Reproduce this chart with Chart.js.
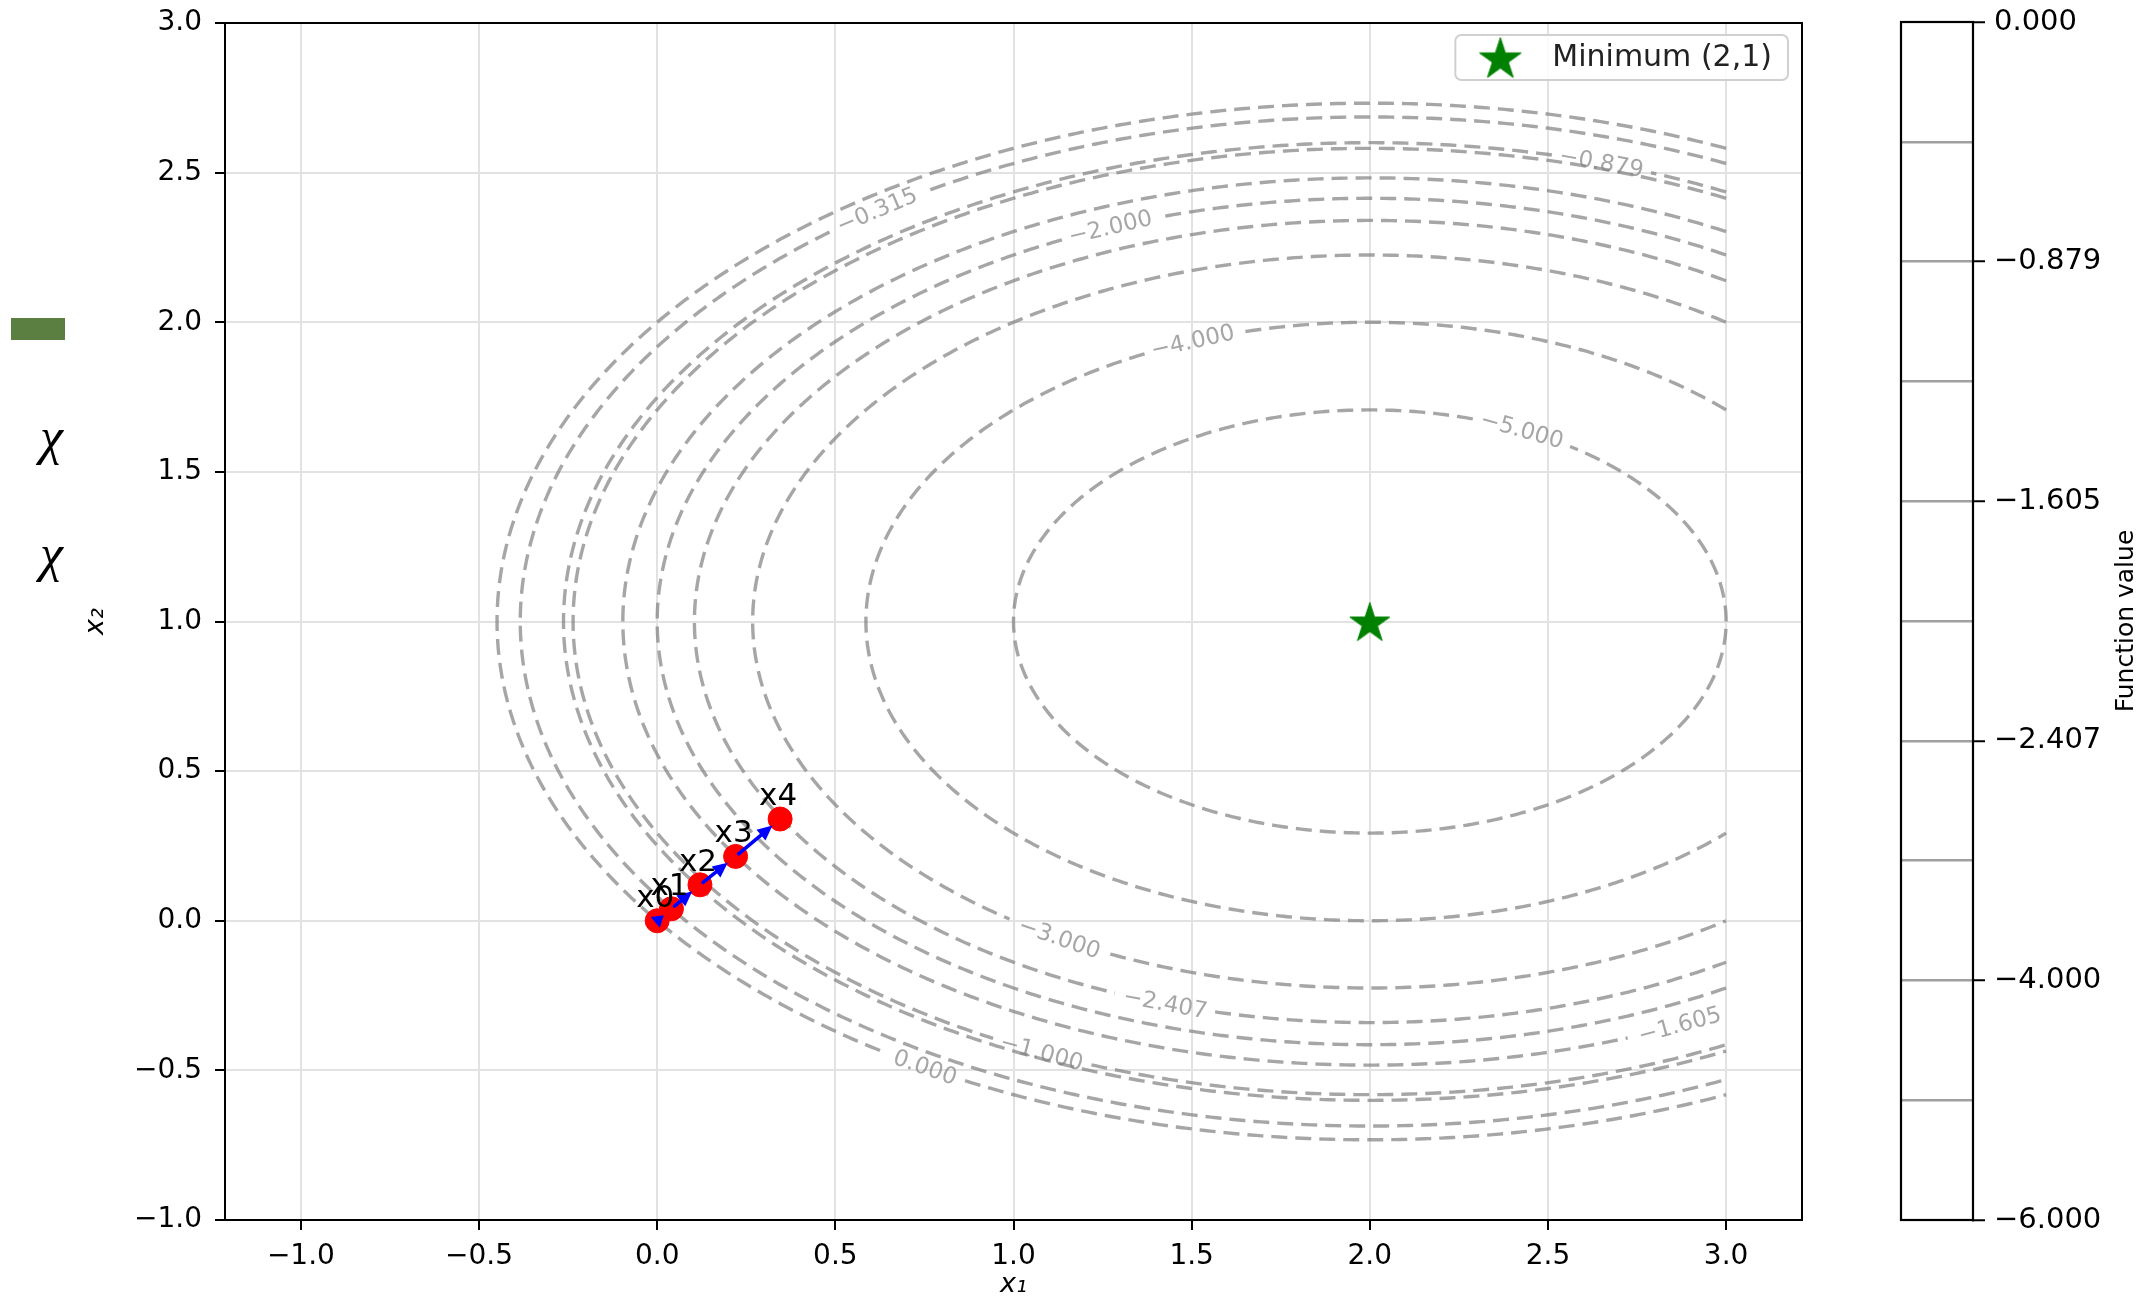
<!DOCTYPE html>
<html><head><meta charset="utf-8">
<script src="https://cdn.jsdelivr.net/npm/chart.js@4.4.1/dist/chart.umd.min.js"></script>
<style>
html,body{margin:0;padding:0;background:#fff;width:2151px;height:1303px;overflow:hidden;}
#main{position:absolute;left:0;top:0;}
#cbar{position:absolute;left:1880px;top:0;}
.art{position:absolute;}
.chi{font-family:"Liberation Serif","DejaVu Serif",serif;font-style:italic;font-size:52px;line-height:52px;color:#000;}
</style></head><body>
<canvas id="main" width="1880" height="1303"></canvas>
<canvas id="cbar" width="271" height="1303"></canvas>
<div class="art" style="left:11px;top:318px;width:54px;height:22px;background:#5b7f41"></div>
<div class="art chi" style="left:40px;top:411px;">χ</div>
<div class="art chi" style="left:40px;top:528px;">χ</div>
<script>
// ---------- data ----------
const xTickValues = [-1.0, -0.5, 0.0, 0.5, 1.0, 1.5, 2.0, 2.5, 3.0];
const yTickValues = [-1.0, -0.5, 0.0, 0.5, 1.0, 1.5, 2.0, 2.5, 3.0];
const contourLevels = [-5.0, -4.0, -3.0, -2.407, -2.0, -1.605, -1.0, -0.879, -0.315, 0.0];
const colorbarLevels = [-6.0, -5.0, -4.0, -3.0, -2.407, -2.0, -1.605, -1.0, -0.879, -0.315, 0.0];
const pathX = [0.0, 0.04, 0.12, 0.22, 0.345];
const pathY = [0.0, 0.04, 0.12, 0.215, 0.34];
const pathNames = ['x0', 'x1', 'x2', 'x3', 'x4'];
const minimumX = [2];
const minimumY = [1];
const minimumName = 'Minimum (2,1)';
// f(x1,x2) = A(x1-2)^2 + B(x2-1)^2 + fMin
const fA = 1, fB = 2, fMin = -6, fCx = 2, fCy = 1;
const gridXMax = 3;
// contour label anchors: level, x1 position, branch (+1 upper / -1 lower)
const labelLevels = [0.0, -0.315, -0.879, -1.0, -1.605, -2.0, -2.407, -3.0, -4.0, -5.0];
const labelX = [0.752, 0.617, 2.65, 1.079, 2.87, 1.272, 1.426, 1.129, 1.503, 2.427];
const labelBranch = [-1, 1, 1, -1, -1, 1, -1, -1, 1, 1];

// ---------- helpers ----------
const FONT = '"DejaVu Sans", sans-serif';
const fmtLevel = v => (v < 0 ? '\u2212' : '') + Math.abs(v).toFixed(3);
const fmtTick = v => (v < 0 ? '\u2212' : '') + Math.abs(v).toFixed(1);

function contourPoints(L) {
  const r2 = L - fMin;
  const a = Math.sqrt(r2 / fA), b = Math.sqrt(r2 / fB);
  const c = (gridXMax - fCx) / a;
  const t0 = c >= 1 ? 0 : Math.acos(c);
  const N = 600, pts = [];
  for (let i = 0; i <= N; i++) {
    const t = t0 + (2 * Math.PI - 2 * t0) * i / N;
    pts.push({x: fCx + a * Math.cos(t), y: fCy + b * Math.sin(t)});
  }
  return pts;
}
function labelInfo(k) {
  const L = labelLevels[k], r2 = L - fMin;
  const a = Math.sqrt(r2 / fA), b = Math.sqrt(r2 / fB);
  const x = labelX[k];
  const y = fCy + labelBranch[k] * Math.sqrt(Math.max(0, (r2 - fA * (x - fCx) ** 2) / fB));
  const t = Math.atan2((y - fCy) / b, (x - fCx) / a);
  return {L, x, y, dx: -a * Math.sin(t), dy: b * Math.cos(t)};
}
function makeStar(size, color) {
  const cv = document.createElement('canvas');
  cv.width = size; cv.height = size;
  const c = cv.getContext('2d');
  const R = size / 2 - 1, r = R * 0.382, cx = size / 2, cy = size / 2 + R * 0.1;
  c.beginPath();
  for (let i = 0; i < 10; i++) {
    const ang = -Math.PI / 2 + i * Math.PI / 5;
    const rr = i % 2 === 0 ? R : r;
    const px = cx + rr * Math.cos(ang), py = cy + rr * Math.sin(ang);
    i === 0 ? c.moveTo(px, py) : c.lineTo(px, py);
  }
  c.closePath();
  c.fillStyle = color; c.fill();
  c.strokeStyle = color; c.lineWidth = 1; c.stroke();
  return cv;
}
const starMain = makeStar(44, '#008000');
const starLegend = makeStar(46, '#008000');

const measureCtx = document.createElement('canvas').getContext('2d');
const LABEL_FONT = '23px ' + FONT;
measureCtx.font = LABEL_FONT;
const labelHalfW = labelLevels.map(L => measureCtx.measureText(fmtLevel(L)).width / 2);

const CONTOUR_COLOR = 'rgba(128,128,128,0.7)';

// ---------- datasets ----------
const datasets = [];
contourLevels.forEach((L) => {
  datasets.push({
    type: 'line', label: 'level ' + fmtLevel(L), data: contourPoints(L),
    borderColor: CONTOUR_COLOR, borderWidth: 3.4, borderDash: [16, 8],
    pointRadius: 0, tension: 0, fill: false, order: 3,
    segment: {
      borderColor: ctx => {
        const chart = ctx.chart;
        if (!chart || !chart.scales || !chart.scales.x) return undefined;
        const sx = chart.scales.x, sy = chart.scales.y;
        const mx = (ctx.p0.x + ctx.p1.x) / 2, my = (ctx.p0.y + ctx.p1.y) / 2;
        for (let k = 0; k < labelLevels.length; k++) {
          if (labelLevels[k] !== L) continue;
          const info = labelInfo(k);
          const px = sx.getPixelForValue(info.x), py = sy.getPixelForValue(info.y);
          if (Math.hypot(mx - px, my - py) < labelHalfW[k] + 9) return 'rgba(0,0,0,0)';
        }
        return undefined;
      }
    }
  });
});
datasets.push({
  type: 'scatter', label: 'path',
  data: pathX.map((x, i) => ({x, y: pathY[i]})),
  backgroundColor: '#ff0000', borderColor: '#ff0000', pointRadius: 12, pointHoverRadius: 12,
  showLine: false, order: 2
});
datasets.push({
  type: 'scatter', label: minimumName,
  data: minimumX.map((x, i) => ({x, y: minimumY[i]})),
  pointStyle: starMain, pointRadius: 22, backgroundColor: '#008000', borderColor: '#008000',
  showLine: false, order: 1
});

// ---------- plugins ----------
const mainPlugin = {
  id: 'mainDecor',
  afterDatasetsDraw(chart) {
    const ctx = chart.ctx, sx = chart.scales.x, sy = chart.scales.y, area = chart.chartArea;
    // contour labels
    ctx.save();
    ctx.font = LABEL_FONT; ctx.fillStyle = CONTOUR_COLOR;
    ctx.textAlign = 'center'; ctx.textBaseline = 'middle';
    for (let k = 0; k < labelLevels.length; k++) {
      const info = labelInfo(k);
      const px = sx.getPixelForValue(info.x), py = sy.getPixelForValue(info.y);
      const ppx = sx.getPixelForValue(info.x + info.dx * 0.01) - px;
      const ppy = sy.getPixelForValue(info.y + info.dy * 0.01) - py;
      let ang = Math.atan2(ppy, ppx);
      if (ang > Math.PI / 2) ang -= Math.PI;
      if (ang < -Math.PI / 2) ang += Math.PI;
      ctx.save(); ctx.translate(px, py); ctx.rotate(ang);
      ctx.fillText(fmtLevel(info.L), 0, 1);
      ctx.restore();
    }
    ctx.restore();
    // arrows between path points
    const pathIdx = chart.data.datasets.findIndex(d => d.label === 'path');
    const pts = chart.getDatasetMeta(pathIdx).data;
    ctx.save();
    ctx.strokeStyle = '#0000ff'; ctx.fillStyle = '#0000ff'; ctx.lineWidth = 3.6;
    ctx.lineCap = 'round';
    for (let i = 0; i < pts.length - 1; i++) {
      const a = pts[i], b = pts[i + 1];
      const dx = b.x - a.x, dy = b.y - a.y, len = Math.hypot(dx, dy);
      const ux = dx / len, uy = dy / len;
      const sxp = a.x + ux * 4, syp = a.y + uy * 4;
      const ex = b.x - ux * 10, ey = b.y - uy * 10;
      const hl = Math.min(15, len * 0.6), hw = 7;
      ctx.beginPath(); ctx.moveTo(sxp, syp); ctx.lineTo(ex - ux * hl * 0.5, ey - uy * hl * 0.5); ctx.stroke();
      ctx.beginPath();
      ctx.moveTo(ex, ey);
      ctx.lineTo(ex - ux * hl - uy * hw, ey - uy * hl + ux * hw);
      ctx.lineTo(ex - ux * hl + uy * hw, ey - uy * hl - ux * hw);
      ctx.closePath(); ctx.fill();
    }
    ctx.restore();
    // point names
    ctx.save();
    ctx.font = '31px ' + FONT; ctx.fillStyle = '#000';
    ctx.textAlign = 'center'; ctx.textBaseline = 'alphabetic';
    pts.forEach((p, i) => ctx.fillText(pathNames[i], p.x - 2, p.y - 14));
    ctx.restore();
    // frame
    ctx.save();
    ctx.strokeStyle = '#000'; ctx.lineWidth = 2;
    ctx.strokeRect(area.left, area.top, area.right - area.left, area.bottom - area.top);
    ctx.restore();
    // legend
    const minDs = chart.data.datasets.find(d => d.label === minimumName);
    ctx.save();
    ctx.font = '30px ' + FONT;
    const tw = ctx.measureText(minDs.label).width;
    const bw = 97 + tw + 16, bh = 45;
    const bx = area.right - 14 - bw, by = area.top + 12;
    ctx.fillStyle = 'rgba(255,255,255,0.85)'; ctx.strokeStyle = '#d0d0d0'; ctx.lineWidth = 2;
    ctx.beginPath(); ctx.roundRect(bx, by, bw, bh, 6); ctx.fill(); ctx.stroke();
    ctx.drawImage(starLegend, bx + 45 - starLegend.width / 2, by + bh / 2 - starLegend.height / 2);
    ctx.fillStyle = '#222'; ctx.textAlign = 'left'; ctx.textBaseline = 'middle';
    ctx.fillText(minDs.label, bx + 97, by + bh / 2 + 1);
    ctx.restore();
  }
};

// target plot-area edges (canvas pixels)
const MAIN_AREA = {left: 225, right: 1802, top: 22, bottom: 1220};
const CB_AREA = {left: 21, right: 93, top: 22, bottom: 1220};
const mainFit = {xH: 83, yW: 165};
const cbFit = {yW: 178};
const zeroPad = s => { s.paddingTop = 0; s.paddingBottom = 0; s.paddingLeft = 0; s.paddingRight = 0; };

const tickFont = {family: FONT, size: 28};
const mainChart = new Chart(document.getElementById('main'), {
  type: 'scatter',
  data: {datasets},
  options: {
    responsive: false, animation: false, events: [],
    layout: {padding: {left: 60, right: 78, top: 22, bottom: 0}},
    plugins: {legend: {display: false}, tooltip: {enabled: false}},
    scales: {
      x: {
        type: 'linear', min: -1.213, max: 3.213,
        afterBuildTicks: s => { s.ticks = xTickValues.map(v => ({value: v})); },
        afterFit: s => { s.height = mainFit.xH; zeroPad(s); },
        ticks: {font: tickFont, color: '#000', padding: 10, autoSkip: false, maxRotation: 0, callback: v => fmtTick(v)},
        grid: {color: '#e2e2e2', lineWidth: 2, tickColor: '#000', tickLength: 10, tickWidth: 2},
        border: {display: true, color: '#000', width: 2},
        title: {display: true, text: 'x\u2081', font: {family: FONT, size: 27, style: 'italic'}, color: '#000', padding: {top: 0, bottom: 2}}
      },
      y: {
        type: 'linear', min: -1, max: 3,
        afterBuildTicks: s => { s.ticks = yTickValues.map(v => ({value: v})); },
        afterFit: s => { s.width = mainFit.yW; zeroPad(s); },
        ticks: {font: tickFont, color: '#000', padding: 13, autoSkip: false, callback: v => fmtTick(v)},
        grid: {color: '#e2e2e2', lineWidth: 2, tickColor: '#000', tickLength: 10, tickWidth: 2},
        border: {display: true, color: '#000', width: 2},
        title: {display: true, text: 'x\u2082', font: {family: FONT, size: 27, style: 'italic'}, color: '#000', padding: {top: 20, bottom: 0}}
      }
    }
  },
  plugins: [mainPlugin]
});
// snap the plot area to the target edges
(function () {
  const a = mainChart.chartArea, p = mainChart.options.layout.padding;
  p.top += MAIN_AREA.top - a.top;
  p.right += a.right - MAIN_AREA.right;
  mainFit.xH += a.bottom - MAIN_AREA.bottom;
  mainFit.yW += MAIN_AREA.left - a.left;
  mainChart.update();
})();

// ---------- colorbar ----------
const cbPlugin = {
  id: 'cbDecor',
  afterDraw(chart) {
    const ctx = chart.ctx, a = chart.chartArea;
    ctx.save();
    ctx.strokeStyle = '#000'; ctx.lineWidth = 2.2;
    ctx.strokeRect(a.left, a.top, a.right - a.left, a.bottom - a.top);
    ctx.font = '25px ' + FONT; ctx.fillStyle = '#000';
    ctx.textAlign = 'center'; ctx.textBaseline = 'middle';
    ctx.translate(246, (a.top + a.bottom) / 2);
    ctx.rotate(-Math.PI / 2);
    ctx.fillText('Function value', 0, 0);
    ctx.restore();
  }
};
const nCb = colorbarLevels.length;
const cbChart = new Chart(document.getElementById('cbar'), {
  type: 'scatter',
  data: {datasets: []},
  options: {
    responsive: false, animation: false, events: [],
    layout: {padding: {left: 21, right: 0, top: 22, bottom: 83}},
    plugins: {legend: {display: false}, tooltip: {enabled: false}},
    scales: {
      x: {display: false, min: 0, max: 1},
      y: {
        position: 'right', min: 0, max: nCb - 1,
        afterBuildTicks: s => { s.ticks = colorbarLevels.map((v, i) => ({value: i})); },
        afterFit: s => { s.width = cbFit.yW; zeroPad(s); },
        ticks: {font: {family: FONT, size: 29}, color: '#000', padding: 9, autoSkip: false,
          callback: (v, i) => (i % 2 === 0 ? fmtLevel(colorbarLevels[i]) : '')},
        grid: {
          color: c => (c.index === 0 || c.index === nCb - 1) ? 'rgba(0,0,0,0)' : 'rgba(128,128,128,0.75)',
          lineWidth: 2.5,
          tickColor: c => (c.index % 2 === 0 ? '#000' : 'rgba(0,0,0,0)'),
          tickLength: 12, tickWidth: 2
        },
        border: {display: true, color: '#000', width: 2}
      }
    }
  },
  plugins: [cbPlugin]
});
(function () {
  const a = cbChart.chartArea, p = cbChart.options.layout.padding;
  p.top += CB_AREA.top - a.top;
  p.bottom += a.bottom - CB_AREA.bottom;
  p.left += CB_AREA.left - a.left;
  cbFit.yW += a.right - CB_AREA.right;
  cbChart.update();
})();
</script>
</body></html>
